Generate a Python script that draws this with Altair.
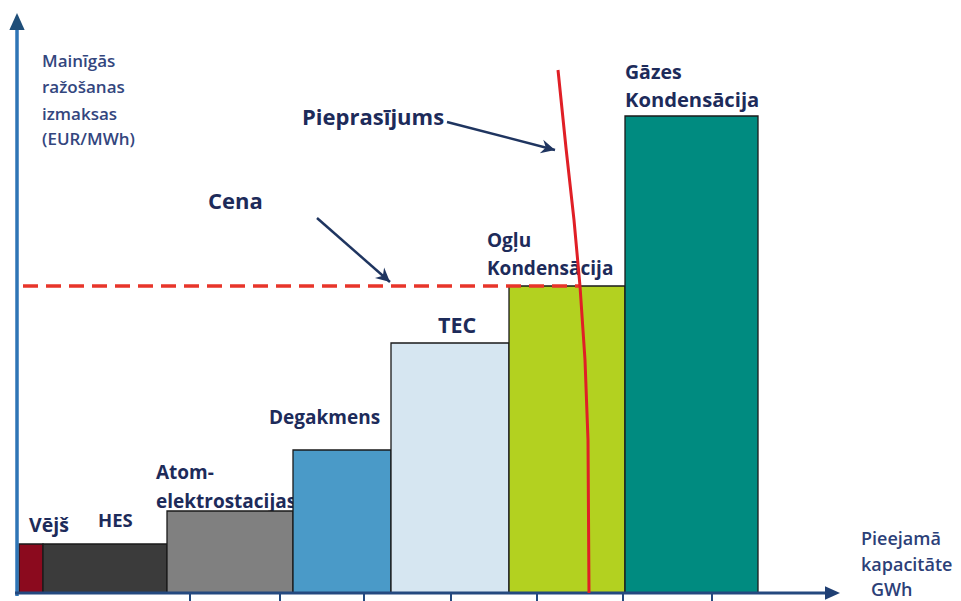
import math
import altair as alt
import pandas as pd

# ---- data (x in GWh units, y in EUR/MWh units) ----
sources = ["Vējš", "HES", "Atom", "Degakmens", "TEC", "Ogļu", "Gāzes"]
capacity = [2.4, 12.4, 12.6, 9.8, 11.8, 11.6, 13.3]
cost = [9.8, 9.8, 16.4, 28.6, 50.0, 61.4, 95.4]
bar_colors = ["#8b0a1e", "#3b3b3b", "#808080", "#4a9ac8", "#d6e6f1", "#b3d120", "#008b80"]

price = 61.4
price_from = 0.4
price_to = 56.1

demand_x = [53.9, 54.7, 55.5, 56.1, 56.6, 56.9, 57.0]
demand_y = [104.6, 89.0, 74.6, 61.4, 46.6, 30.6, 0.0]

tick_x = [17.1, 26.1, 34.5, 43.2, 51.8, 60.4, 69.3]

arrow_x1 = [42.8, 29.8]
arrow_y1 = [94.2, 75.0]
arrow_x2 = [53.6, 37.1]
arrow_y2 = [88.6, 62.2]

label_text = ["Vējš", "HES", "Atom-", "elektrostacijas", "Degakmens", "TEC",
              "Ogļu", "Kondensācija", "Gāzes", "Kondensācija", "Cena", "Pieprasījums"]
label_x = [1.0, 7.9, 13.7, 13.7, 25.0, 41.9, 46.8, 46.8, 60.6, 60.6, 18.9, 28.3]
label_y = [13.4, 14.4, 24.0, 18.2, 35.0, 53.2, 70.4, 64.8, 104.0, 98.4, 78.2, 95.0]
label_size = [19.5, 18.5, 19, 19, 19, 21.5, 19, 19, 19.5, 20.2, 22, 22]

ytitle_text = ["Mainīgās", "ražošanas", "izmaksas", "(EUR/MWh)"]
ytitle_x = [2.3, 2.3, 2.3, 2.3]
ytitle_y = [106.2, 101.0, 95.6, 90.6]

xtitle_text = ["Pieejamā", "kapacitāte", "GWh"]
xtitle_x = [84.2, 84.2, 85.2]
xtitle_y = [10.6, 5.4, 0.4]

# ---- scales ----
XS = alt.Scale(domain=[-1.1, 93.4], nice=False, zero=False)
YS = alt.Scale(domain=[-3, 117], nice=False, zero=False)
PX_PER_X = 945 / 94.5
PX_PER_Y = 600 / 120


def X(f):
    return alt.X(f, type="quantitative", scale=XS, axis=None)


def Y(f):
    return alt.Y(f, type="quantitative", scale=YS, axis=None)


starts = [sum(capacity[:i]) for i in range(len(capacity))]
bars_df = pd.DataFrame({
    "src": sources,
    "x0": starts,
    "x1": [s + c for s, c in zip(starts, capacity)],
    "base": [0] * len(sources),
    "cost": cost,
    "color": bar_colors,
})

bars = alt.Chart(bars_df).mark_rect(stroke="#1a1a1a", strokeWidth=1.3).encode(
    x=X("x0"), x2="x1", y=Y("base"), y2="cost",
    color=alt.Color("color:N", scale=None, legend=None))

labels_df = pd.DataFrame({"t": label_text, "x": label_x, "y": label_y, "s": label_size})
labels = alt.Chart(labels_df).mark_text(
    align="left", baseline="middle", font="Open Sans", fontWeight="bold", color="#1d2b5a"
).encode(x=X("x"), y=Y("y"), text="t:N", size=alt.Size("s:Q", scale=None, legend=None))

yt_df = pd.DataFrame({"t": ytitle_text, "x": ytitle_x, "y": ytitle_y})
ytitle = alt.Chart(yt_df).mark_text(
    align="left", baseline="middle", font="Open Sans", fontWeight=600, fontSize=17, color="#33467e"
).encode(x=X("x"), y=Y("y"), text="t:N")

xt_df = pd.DataFrame({"t": xtitle_text, "x": xtitle_x, "y": xtitle_y})
xtitle = alt.Chart(xt_df).mark_text(
    align="left", baseline="middle", font="Open Sans", fontWeight=600, fontSize=18, color="#2c3f78"
).encode(x=X("x"), y=Y("y"), text="t:N")

# axes
yaxis = alt.Chart(pd.DataFrame({"x": [-0.2], "y": [-0.6], "y2": [113.0]})).mark_rule(
    color="#2e75b6", strokeWidth=3.5).encode(x=X("x"), y=Y("y"), y2="y2")
xaxis = alt.Chart(pd.DataFrame({"x": [-0.4], "x2": [81.0], "y": [0.0]})).mark_rule(
    color="#24497f", strokeWidth=3).encode(x=X("x"), x2="x2", y=Y("y"))
yhead = alt.Chart(pd.DataFrame({"x": [-0.2], "y": [114.3]})).mark_point(
    shape="M0,-1 L0.9,1 L-0.9,1 Z", filled=True, size=289, opacity=1, color="#1f4e79"
).encode(x=X("x"), y=Y("y"))
xhead = alt.Chart(pd.DataFrame({"x": [81.35], "y": [0.0]})).mark_point(
    shape="M1,0 L-1,-0.9 L-1,0.9 Z", filled=True, size=225, opacity=1, color="#1f3f73"
).encode(x=X("x"), y=Y("y"))

ticks_df = pd.DataFrame({"x": tick_x, "y": [0.0] * len(tick_x), "y2": [-1.8] * len(tick_x)})
ticks = alt.Chart(ticks_df).mark_rule(color="#24497f", strokeWidth=2).encode(
    x=X("x"), y=Y("y"), y2="y2")

# price line
price_line = alt.Chart(pd.DataFrame({"x": [price_from], "x2": [price_to], "y": [price]})).mark_rule(
    color="#e8352a", strokeWidth=3.5, strokeDash=[15, 8]).encode(x=X("x"), x2="x2", y=Y("y"))

# demand curve
dem_df = pd.DataFrame({"x": demand_x, "y": demand_y, "i": list(range(len(demand_x)))})
demand = alt.Chart(dem_df).mark_line(color="#e01f26", strokeWidth=3).encode(
    x=X("x"), y=Y("y"), order="i:Q")

# annotation arrows
angles = [math.degrees(math.atan2(-(y2 - y1) * PX_PER_Y, (x2 - x1) * PX_PER_X)) % 360
          for x1, y1, x2, y2 in zip(arrow_x1, arrow_y1, arrow_x2, arrow_y2)]
arr_df = pd.DataFrame({"x1": arrow_x1, "y1": arrow_y1, "x2": arrow_x2, "y2": arrow_y2, "a": angles})
arrow_lines = alt.Chart(arr_df).mark_rule(color="#1f3560", strokeWidth=2.5).encode(
    x=X("x1"), y=Y("y1"), x2="x2", y2="y2")
arrow_heads = alt.Chart(arr_df).mark_point(
    shape="M0,0 L-2.2,-1.1 L-1.5,0 L-2.2,1.1 Z", filled=True, size=160, opacity=1, color="#1f3560"
).encode(x=X("x2"), y=Y("y2"), angle=alt.Angle("a:Q", scale=None))

chart = alt.layer(
    labels, bars, ticks, yaxis, xaxis, yhead, xhead, price_line, demand,
    arrow_lines, arrow_heads, ytitle, xtitle
).properties(
    width=945, height=600, padding=0,
    autosize=alt.AutoSizeParams(type="none"),
    background="white",
).configure_view(stroke=None)

chart.save("out.html", embed_options={"renderer": "svg", "actions": False})
